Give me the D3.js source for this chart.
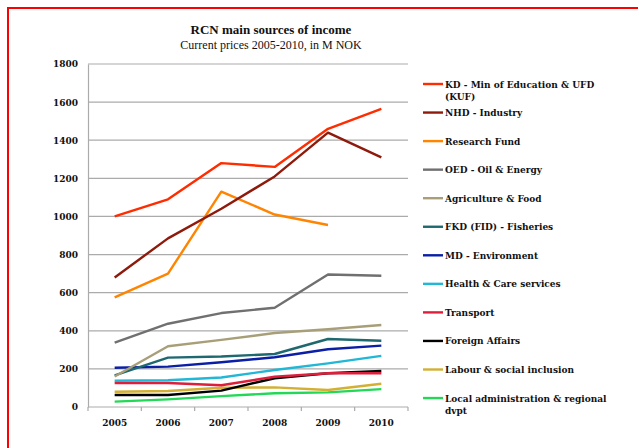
<!DOCTYPE html>
<html>
<head>
<meta charset="utf-8">
<script src="https://cdn.jsdelivr.net/npm/d3@7"></script>
<style>
  body { margin: 0; background: #fff; }
  svg { display: block; }
  text { font-family: "DejaVu Serif", Georgia, serif; fill: #111; }
  .title { font-family: "Liberation Serif", "Times New Roman", serif; }
</style>
</head>
<body>
<div id="chart"></div>
<script>
(function() {
  'use strict';

  var years = ['2005', '2006', '2007', '2008', '2009', '2010'];
  var yTicks = [0, 200, 400, 600, 800, 1000, 1200, 1400, 1600, 1800];

  var seriesNames = [
    'KD - Min of Education & UFD (KUF)',
    'NHD - Industry',
    'Research Fund',
    'OED - Oil & Energy',
    'Agriculture & Food',
    'FKD (FID) - Fisheries',
    'MD - Environment',
    'Health & Care services',
    'Transport',
    'Foreign Affairs',
    'Labour & social inclusion',
    'Local administration & regional dvpt'
  ];

  var kd        = [1000, 1090, 1280, 1260, 1460, 1565];
  var nhd       = [680, 885, 1040, 1210, 1440, 1310];
  var research  = [575, 700, 1130, 1010, 955, null];
  var oed       = [338, 437, 493, 521, 695, 689];
  var agri      = [160, 319, 352, 388, 408, 430];
  var fkd       = [166, 259, 265, 278, 357, 348];
  var md        = [206, 212, 235, 261, 303, 322];
  var health    = [138, 140, 155, 194, 229, 268];
  var transport = [126, 126, 114, 159, 177, 177];
  var foreign   = [63, 63, 86, 151, 177, 189];
  var labour    = [80, 84, 101, 103, 89, 122];
  var local     = [28, 40, 57, 72, 77, 94];

  var values = [kd, nhd, research, oed, agri, fkd, md, health, transport, foreign, labour, local];
  var colours = ['#FF2C00', '#8E1A0C', '#FF8400', '#707070', '#A89F78', '#1E6870',
                 '#0B1EA6', '#21B7D6', '#DD1F3C', '#000000', '#D3B034', '#22D856'];

  var width = 638, height = 448;
  var margin = {left: 88, right: 230, top: 64, bottom: 41};

  var svg = d3.select('#chart').append('svg')
    .attr('width', width)
    .attr('height', height);

  // red frame
  svg.append('rect')
    .attr('x', 8).attr('y', 8)
    .attr('width', 700).attr('height', 500)
    .attr('fill', 'none')
    .attr('stroke', '#FF0000')
    .attr('stroke-width', 2);

  var x = d3.scaleBand()
    .domain(years)
    .range([margin.left, width - margin.right]);

  var y = d3.scaleLinear()
    .domain([0, 1800])
    .range([height - margin.bottom, margin.top]);

  // grid
  svg.append('g')
    .selectAll('line')
    .data(yTicks.slice(1))
    .enter()
    .append('line')
    .attr('x1', margin.left).attr('x2', width - margin.right)
    .attr('y1', function(d) { return y(d); })
    .attr('y2', function(d) { return y(d); })
    .attr('stroke', '#ababab')
    .attr('stroke-width', 1.2);

  // y axis
  var yAxis = svg.append('g')
    .attr('transform', 'translate(' + margin.left + ',0)')
    .call(d3.axisLeft(y).tickValues(yTicks).tickFormat(d3.format('d')).tickSize(0).tickPadding(10));
  yAxis.select('.domain').attr('stroke', '#ababab').attr('stroke-width', 1.2);
  yAxis.selectAll('text')
    .style('font-size', '9px')
    .style('font-weight', 'bold');

  // x axis with boundary ticks
  var xAxis = svg.append('g')
    .attr('transform', 'translate(0,' + y(0) + ')');
  xAxis.append('line')
    .attr('x1', margin.left).attr('x2', width - margin.right)
    .attr('stroke', '#ababab').attr('stroke-width', 1.2);
  var bounds = years.map(function(d) { return x(d); }).concat([x(years[years.length - 1]) + x.bandwidth()]);
  xAxis.selectAll('line.tick')
    .data(bounds)
    .enter()
    .append('line')
    .attr('class', 'tick')
    .attr('x1', function(d) { return d; })
    .attr('x2', function(d) { return d; })
    .attr('y1', 0).attr('y2', 4)
    .attr('stroke', '#ababab').attr('stroke-width', 1.2);
  xAxis.selectAll('text')
    .data(years)
    .enter()
    .append('text')
    .attr('x', function(d) { return x(d) + x.bandwidth() / 2; })
    .attr('y', 19)
    .attr('text-anchor', 'middle')
    .style('font-size', '9px')
    .style('font-weight', 'bold')
    .text(function(d) { return d; });

  // lines
  var line = d3.line()
    .defined(function(d) { return d.v !== null; })
    .x(function(d) { return x(d.year) + x.bandwidth() / 2; })
    .y(function(d) { return y(d.v); });

  var series = seriesNames.map(function(name, i) {
    return {
      name: name,
      colour: colours[i],
      points: years.map(function(yr, j) { return {year: yr, v: values[i][j]}; })
    };
  });

  svg.append('g')
    .selectAll('path')
    .data(series.slice().reverse())
    .enter()
    .append('path')
    .attr('fill', 'none')
    .attr('stroke', function(d) { return d.colour; })
    .attr('stroke-width', 2.4)
    .attr('stroke-linejoin', 'round')
    .attr('d', function(d) { return line(d.points); });

  // title
  svg.append('text')
    .attr('class', 'title')
    .attr('x', 271).attr('y', 34)
    .attr('text-anchor', 'middle')
    .style('font-size', '13px')
    .style('font-weight', 'bold')
    .text('RCN main sources of income');
  svg.append('text')
    .attr('class', 'title')
    .attr('x', 271).attr('y', 49)
    .attr('text-anchor', 'middle')
    .style('font-size', '12px')
    .text('Current prices 2005-2010, in M NOK');

  // legend
  var legend = svg.append('g');
  var items = legend.selectAll('g')
    .data(series)
    .enter()
    .append('g')
    .attr('transform', function(d, i) { return 'translate(423,' + (84 + i * 28.55) + ')'; });
  items.append('line')
    .attr('x1', 0).attr('x2', 20)
    .attr('stroke', function(d) { return d.colour; })
    .attr('stroke-width', 2.4);
  items.append('text')
    .attr('x', 22)
    .attr('y', 3.5)
    .style('font-size', '9px')
    .style('font-weight', 'bold')
    .each(function(d) {
      var t = d3.select(this);
      var words = d.name.split(' ');
      var lineText = [];
      var tspan = t.append('tspan').attr('x', 22).attr('dy', 0);
      words.forEach(function(w) {
        lineText.push(w);
        tspan.text(lineText.join(' '));
        if (tspan.node().getComputedTextLength() > 165 && lineText.length > 1) {
          lineText.pop();
          tspan.text(lineText.join(' '));
          lineText = [w];
          tspan = t.append('tspan').attr('x', 22).attr('dy', 12).text(w);
        }
      });
    });

}());
</script>
</body>
</html>
